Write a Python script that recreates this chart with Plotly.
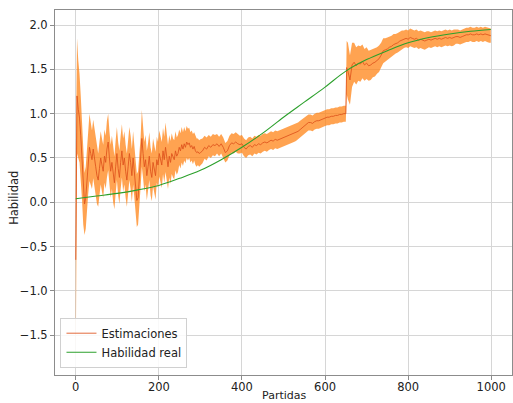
import plotly.graph_objects as go

# ---- data ----
partidas_a = [0, 3, 6, 9, 12, 15, 18, 21, 24, 27, 30, 33, 36, 39, 42, 45, 48, 51, 54, 57,
              60, 63, 66, 69, 72, 75, 78, 81, 84, 87, 90, 93, 96, 99, 102, 105, 108, 111, 114, 117,
              120, 123, 126, 129, 132, 135, 138, 141, 144, 147, 150, 153, 156, 159, 162, 165, 168, 171, 174, 177,
              180, 183, 186, 189, 192, 195, 198, 201, 204, 207, 210, 213, 216, 219, 222, 225, 228, 231, 234, 237,
              240, 243, 246, 249, 252, 255, 258, 261, 264, 267, 270, 273, 276, 279, 282, 285, 288, 291, 294, 297]
estim_a = [-0.65, 1.20, 1.05, 0.95, 0.75, 0.45, 0.15, -0.02, 0.05, 0.25, 0.45, 0.62, 0.55, 0.48, 0.60, 0.52, 0.40, 0.30, 0.25, 0.38,
           0.50, 0.42, 0.35, 0.52, 0.45, 0.60, 0.68, 0.50, 0.35, 0.45, 0.30, 0.22, 0.40, 0.55, 0.38, 0.28, 0.45, 0.58, 0.42, 0.50,
           0.35, 0.25, 0.40, 0.55, 0.45, 0.30, 0.50, 0.35, 0.15, 0.02, 0.05, 0.25, 0.45, 0.72, 0.55, 0.40, 0.48, 0.30, 0.40, 0.52,
           0.35, 0.28, 0.45, 0.38, 0.30, 0.48, 0.42, 0.55, 0.50, 0.42, 0.58, 0.48, 0.62, 0.50, 0.40, 0.52, 0.45, 0.55, 0.50, 0.48,
           0.58, 0.52, 0.55, 0.62, 0.58, 0.65, 0.60, 0.66, 0.62, 0.68, 0.65, 0.67, 0.62, 0.64, 0.60, 0.63, 0.58, 0.56, 0.57, 0.55]
ancho_a = [1.15, 0.65, 0.55, 0.50, 0.45, 0.42, 0.40, 0.35, 0.35, 0.35, 0.35, 0.38, 0.35, 0.33, 0.33, 0.32, 0.32, 0.32, 0.30, 0.30,
           0.30, 0.30, 0.30, 0.30, 0.30, 0.32, 0.32, 0.30, 0.30, 0.30, 0.30, 0.30, 0.30, 0.30, 0.30, 0.30, 0.30, 0.30, 0.30, 0.30,
           0.30, 0.30, 0.30, 0.30, 0.30, 0.30, 0.30, 0.30, 0.30, 0.30, 0.30, 0.28, 0.28, 0.32, 0.28, 0.28, 0.28, 0.28, 0.27, 0.27,
           0.27, 0.27, 0.27, 0.27, 0.27, 0.26, 0.26, 0.26, 0.26, 0.26, 0.26, 0.26, 0.28, 0.25, 0.25, 0.24, 0.24, 0.23, 0.22, 0.22,
           0.22, 0.21, 0.21, 0.20, 0.20, 0.20, 0.19, 0.19, 0.18, 0.18, 0.18, 0.17, 0.17, 0.17, 0.17, 0.16, 0.16, 0.16, 0.15, 0.15]

partidas_b = [300, 305, 310, 315, 320, 325, 330, 335, 340, 345, 350, 355, 360, 365, 370, 375, 380, 385, 390, 395,
              400, 405, 410, 415, 420, 425, 430, 435, 440, 445, 450, 455, 460, 465, 470, 475, 480, 485, 490, 495,
              500, 505, 510, 515, 520, 525, 530, 535, 540, 545, 550, 555, 560, 565, 570, 575, 580, 585, 590, 595,
              600, 605, 610, 615, 620, 625, 630, 635, 640, 645, 650]
estim_b = [0.56, 0.58, 0.62, 0.60, 0.64, 0.62, 0.65, 0.64, 0.66, 0.63, 0.66, 0.62, 0.56, 0.58, 0.64, 0.67, 0.66, 0.68, 0.66, 0.65,
           0.66, 0.62, 0.60, 0.63, 0.64, 0.62, 0.65, 0.64, 0.66, 0.65, 0.67, 0.68, 0.67, 0.69, 0.70, 0.69, 0.71, 0.70, 0.71, 0.72,
           0.73, 0.74, 0.75, 0.76, 0.77, 0.78, 0.79, 0.80, 0.82, 0.84, 0.86, 0.88, 0.90, 0.90, 0.89, 0.91, 0.92, 0.92, 0.93, 0.94,
           0.95, 0.96, 0.96, 0.97, 0.97, 0.98, 0.98, 0.99, 0.99, 1.00, 1.00]
ancho_b = [0.15, 0.14, 0.13, 0.13, 0.12, 0.12, 0.12, 0.12, 0.11, 0.11, 0.11, 0.11, 0.11, 0.11, 0.11, 0.11, 0.11, 0.11, 0.11, 0.10,
           0.10, 0.10, 0.10, 0.10, 0.10, 0.10, 0.10, 0.10, 0.10, 0.10, 0.10, 0.10, 0.10, 0.10, 0.10, 0.10, 0.10, 0.10, 0.10, 0.10,
           0.10, 0.10, 0.10, 0.10, 0.10, 0.10, 0.10, 0.10, 0.10, 0.10, 0.09, 0.09, 0.09, 0.09, 0.09, 0.09, 0.09, 0.09, 0.09, 0.09,
           0.09, 0.09, 0.09, 0.09, 0.09, 0.09, 0.09, 0.09, 0.09, 0.09, 0.09]

partidas_c = [652, 655, 660, 665, 670, 675, 680, 685, 690, 695, 700, 705, 710, 715, 720, 725, 730, 735, 740, 745,
              750, 755, 760, 765, 770, 775, 780, 785, 790, 795, 800, 805, 810, 815, 820, 825, 830, 835, 840, 845,
              850, 855, 860, 865, 870, 875, 880, 885, 890, 895, 900, 905, 910, 915, 920, 925, 930, 935, 940, 945,
              950, 955, 960, 965, 970, 975, 980, 985, 990, 995, 999]
estim_c = [1.52, 1.48, 1.38, 1.55, 1.58, 1.54, 1.57, 1.56, 1.59, 1.55, 1.57, 1.54, 1.55, 1.57, 1.58, 1.60, 1.62, 1.66, 1.71, 1.72,
           1.73, 1.75, 1.76, 1.78, 1.79, 1.80, 1.82, 1.83, 1.84, 1.85, 1.84, 1.86, 1.85, 1.84, 1.85, 1.83, 1.84, 1.83, 1.82, 1.83,
           1.84, 1.83, 1.84, 1.85, 1.84, 1.85, 1.84, 1.85, 1.86, 1.85, 1.86, 1.85, 1.86, 1.87, 1.87, 1.86, 1.87, 1.88, 1.89, 1.89,
           1.90, 1.89, 1.89, 1.90, 1.89, 1.90, 1.89, 1.90, 1.89, 1.88, 1.88]
ancho_c = [0.30, 0.32, 0.28, 0.25, 0.22, 0.21, 0.20, 0.20, 0.19, 0.18, 0.18, 0.17, 0.17, 0.16, 0.16, 0.15, 0.15, 0.14, 0.14, 0.13,
           0.13, 0.12, 0.12, 0.12, 0.11, 0.11, 0.11, 0.11, 0.10, 0.10, 0.10, 0.10, 0.10, 0.10, 0.10, 0.10, 0.10, 0.10, 0.10, 0.10,
           0.09, 0.09, 0.09, 0.09, 0.09, 0.09, 0.09, 0.09, 0.09, 0.09, 0.09, 0.09, 0.09, 0.08, 0.08, 0.08, 0.08, 0.08, 0.08, 0.08,
           0.08, 0.08, 0.08, 0.08, 0.08, 0.08, 0.08, 0.08, 0.08, 0.08, 0.08]

partidas_real = [0, 50, 100, 150, 200, 250, 300, 350, 400, 450, 500, 550, 600, 650, 700, 750, 800, 850, 900, 950, 999]
habilidad_real = [0.04, 0.07, 0.10, 0.14, 0.19, 0.27, 0.36, 0.48, 0.62, 0.78, 0.96, 1.13, 1.30, 1.48, 1.61, 1.71, 1.80, 1.86, 1.90, 1.93, 1.95]

y_ticks = [-1.5, -1.0, -0.5, 0.0, 0.5, 1.0, 1.5, 2.0]
x_ticks = [0, 200, 400, 600, 800, 1000]

# ---- build ----
partidas = partidas_a + partidas_b + partidas_c
estim = estim_a + estim_b + estim_c
ancho = ancho_a + ancho_b + ancho_c
sup = [m + w for m, w in zip(estim, ancho)]
inf = [m - w for m, w in zip(estim, ancho)]

FONT = "DejaVu Sans"
FS = 11.5
TXT = "#222"
fig = go.Figure()
fig.add_trace(go.Scatter(x=partidas + partidas[::-1], y=sup + inf[::-1], fill="toself",
                         fillcolor="rgba(255,127,14,0.72)", line=dict(width=0),
                         hoverinfo="skip", showlegend=False))
fig.add_trace(go.Scatter(x=partidas, y=estim, mode="lines", name="Estimaciones",
                         line=dict(color="rgba(222,82,28,0.85)", width=1)))
fig.add_trace(go.Scatter(x=partidas_real, y=habilidad_real, mode="lines", name="Habilidad real",
                         line=dict(color="#2ca02c", width=1.1, shape="spline")))

ax_common = dict(showgrid=True, gridcolor="#d6d6d6", gridwidth=1, zeroline=False,
                 showline=True, linecolor="#8c8c8c", linewidth=1, mirror=True,
                 ticks="outside", ticklen=4, tickcolor="#8c8c8c", automargin=False,
                 tickfont=dict(family=FONT, size=FS, color=TXT))
fig.update_xaxes(range=[-50, 1050], tickvals=x_ticks, ticktext=[str(v) for v in x_ticks],
                 ticklabelstandoff=-3, **ax_common)
fig.update_yaxes(range=[-1.95, 2.17], tickvals=y_ticks,
                 ticktext=[("\u2212" if v < 0 else "") + f"{abs(v):.1f}" for v in y_ticks],
                 **ax_common)
fig.add_annotation(text="Partidas", xref="paper", yref="paper", x=0.5, y=-0.056,
                   xanchor="center", yanchor="middle", showarrow=False,
                   font=dict(family=FONT, size=11, color=TXT))
fig.add_annotation(text="Habilidad", xref="paper", yref="paper", x=-0.09, y=0.485,
                   xanchor="center", yanchor="middle", showarrow=False, textangle=-90,
                   font=dict(family=FONT, size=FS, color=TXT))
fig.update_layout(width=513, height=403, margin=dict(l=55, r=1, t=10, b=28),
                  plot_bgcolor="white", paper_bgcolor="white",
                  font=dict(family=FONT, size=FS, color=TXT),
                  legend=dict(x=0.012, y=0.02, xanchor="left", yanchor="bottom",
                              bgcolor="rgba(255,255,255,0.85)", bordercolor="#d0d0d0", borderwidth=1,
                              font=dict(family=FONT, size=FS, color=TXT), itemwidth=30,
                              tracegroupgap=0))
fig.write_html("out.html")
